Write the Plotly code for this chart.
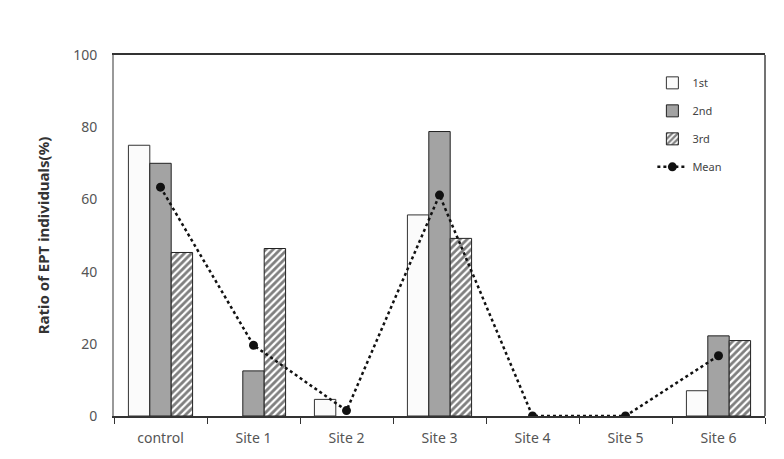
import plotly.graph_objects as go

categories = ["control", "Site 1", "Site 2", "Site 3", "Site 4", "Site 5", "Site 6"]
first = [75.0, None, 4.6, 55.7, None, None, 7.0]
second = [70.0, 12.5, None, 78.8, None, None, 22.2]
third = [45.3, 46.4, None, 49.2, None, None, 20.9]
mean = [63.4, 19.6, 1.5, 61.2, 0, 0, 16.7]

FONT = "Noto Sans"
fig = go.Figure()
fig.add_trace(go.Bar(
    x=categories, y=first, name="1st", legendgroup="a",
    marker=dict(color="#fbfbfb", line=dict(color="#333333", width=1)),
))
fig.add_trace(go.Bar(
    x=categories, y=second, name="2nd", legendgroup="b",
    marker=dict(color="#a3a3a3", line=dict(color="#222222", width=1)),
))
fig.add_trace(go.Bar(
    x=categories, y=third, name="3rd", legendgroup="c",
    marker=dict(color="white", line=dict(color="#222222", width=1),
                pattern=dict(shape="/", fgcolor="#000000", size=5, solidity=0.55,
                             fillmode="overlay")),
))
fig.add_trace(go.Scatter(
    x=categories, y=mean, name="Mean", legendgroup="d", mode="lines+markers",
    line=dict(color="#111111", width=2.5, dash="dot"),
    marker=dict(color="#111111", size=9),
))

fig.update_layout(
    width=784, height=459,
    margin=dict(l=114, r=19, t=55, b=43),
    paper_bgcolor="white", plot_bgcolor="white",
    font=dict(family=FONT, color="#555555", size=14),
    barmode="group", bargap=0.31, bargroupgap=0,
    showlegend=True,
    legend=dict(x=0.827, y=0.963, xanchor="left", yanchor="top",
                bgcolor="rgba(0,0,0,0)", font=dict(size=11, color="#444444"),
                tracegroupgap=9, traceorder="grouped"),
    xaxis=dict(showline=True, linecolor="#333333", linewidth=1.5, mirror=True,
               ticks="outside", tickson="boundaries", ticklen=6, tickcolor="#333333",
               ticklabelstandoff=8,
               tickfont=dict(size=14, color="#555555")),
    yaxis=dict(range=[0, 100], dtick=20, showgrid=False, zeroline=False,
               showline=True, linecolor="#999999", linewidth=2,
               ticks="", ticklabelstandoff=12, tickfont=dict(size=14, color="#555555"),
               title=dict(text="<b>Ratio of EPT individuals(%)</b>", standoff=20,
                          font=dict(size=15, color="#333333"))),
)
fig.add_shape(type="line", xref="paper", yref="paper", x0=1, x1=1, y0=0, y1=1,
              line=dict(color="#444444", width=1.5))

fig.write_html("out.html")
